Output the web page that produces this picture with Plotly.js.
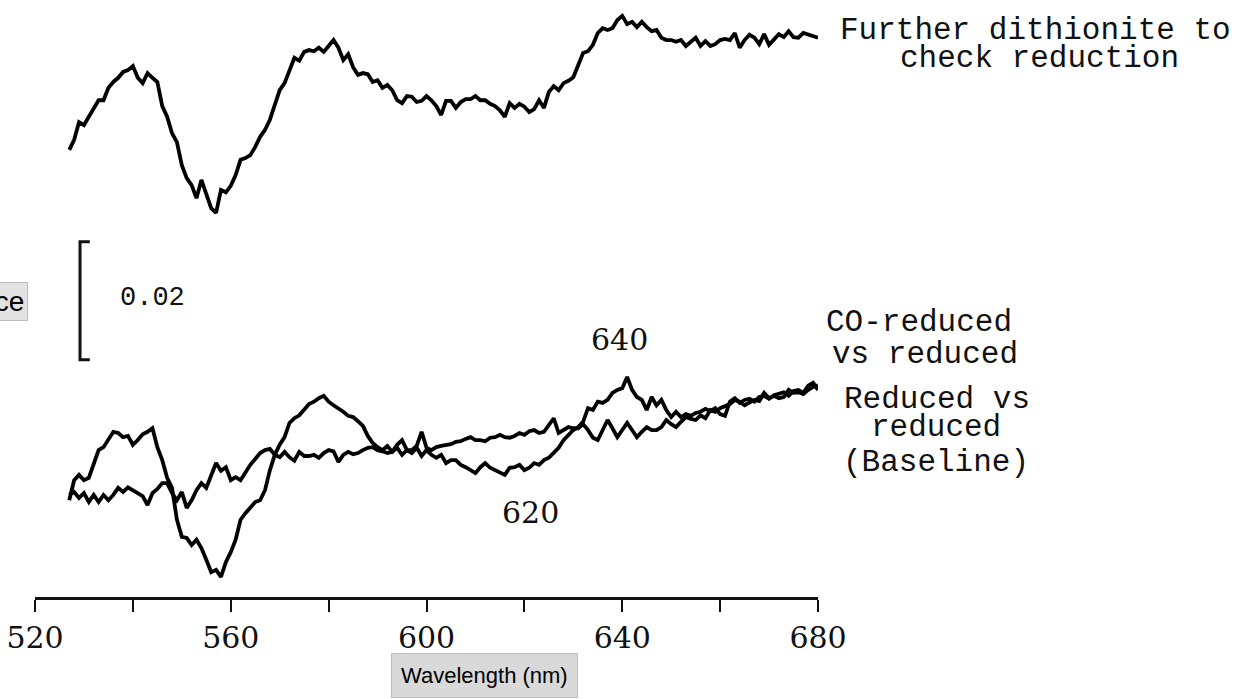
<!DOCTYPE html>
<html>
<head>
<meta charset="utf-8">
<script src="https://cdn.plot.ly/plotly-3.0.1.min.js"></script>
<style>html,body{margin:0;padding:0;background:#fff;}#chart{width:1248px;height:699px;}</style>
</head>
<body>
<div id="chart"></div>
<script>
// Wavelength grid (nm)
const wavelength = [
527,528,529,530,531,532,533,534,535,536,
537,538,539,540,541,542,543,544,545,546,
547,548,549,550,551,552,553,554,555,556,
557,558,559,560,561,562,563,564,565,566,
567,568,569,570,571,572,573,574,575,576,
577,578,579,580,581,582,583,584,585,586,
587,588,589,590,591,592,593,594,595,596,
597,598,599,600,601,602,603,604,605,606,
607,608,609,610,611,612,613,614,615,616,
617,618,619,620,621,622,623,624,625,626,
627,628,629,630,631,632,633,634,635,636,
637,638,639,640,641,642,643,644,645,646,
647,648,649,650,651,652,653,654,655,656,
657,658,659,660,661,662,663,664,665,666,
667,668,669,670,671,672,673,674,675,676,
677,678,679,680];

// Absorbance (x 0.001, traces offset vertically as in the recording)
const dithioniteAbs = [
75.8,77.5,80.5,80.0,81.4,82.9,84.2,84.2,86.3,87.3,
88.0,89.0,89.3,90.0,88.0,87.1,88.8,88.0,87.3,83.2,
81.4,78.6,77.1,73.2,71.0,69.8,67.6,70.7,68.5,65.9,
65.1,69.0,68.6,69.7,71.5,74.1,74.4,74.9,76.3,78.0,
79.2,80.9,83.4,85.9,87.1,89.3,91.4,90.9,92.4,92.7,
92.5,93.1,92.4,93.4,94.4,93.1,91.0,92.0,89.8,88.5,
88.8,88.6,87.3,87.6,86.3,86.8,85.9,84.2,83.7,84.9,
84.8,83.9,84.1,84.9,84.2,83.2,81.7,84.1,84.1,82.9,
83.9,84.4,84.4,84.9,84.2,84.2,83.6,83.2,82.5,81.4,
83.7,82.9,83.6,83.1,82.2,82.7,84.2,82.9,85.6,86.6,
85.9,87.1,87.5,88.1,90.3,92.2,92.5,93.6,95.6,96.4,
96.1,96.4,97.8,98.5,97.1,97.5,96.6,97.5,96.6,95.9,
96.1,94.8,94.4,94.4,94.1,94.4,93.4,94.1,94.8,93.4,
94.2,93.4,93.7,94.4,94.6,94.4,95.6,93.1,94.4,95.3,
94.8,93.7,95.4,93.6,94.4,95.4,94.9,95.9,94.9,94.8,
95.6,95.3,95.1,94.8];

const coReducedAbs = [
16.4,19.8,20.7,19.8,20.2,22.4,24.9,25.4,26.6,28.0,
27.8,27.1,27.3,25.8,26.6,27.6,28.0,28.6,25.4,23.2,
20.2,18.5,13.1,10.2,10.0,8.8,9.7,8.3,6.3,4.2,
4.6,3.4,5.9,7.6,9.7,13.1,14.2,15.1,16.1,16.4,
18.1,21.5,24.1,25.8,27.1,29.5,30.3,30.8,31.7,32.7,
33.1,33.7,34.1,33.1,32.5,32.0,31.4,30.7,30.5,29.8,
29.0,27.3,26.1,25.4,24.9,25.6,24.6,25.3,24.1,24.9,
24.4,25.3,23.9,24.9,24.1,23.6,24.1,22.7,23.2,23.2,
22.4,22.0,21.5,21.0,22.0,22.7,21.9,21.5,21.2,20.7,
21.9,22.0,22.4,21.5,21.9,22.7,22.4,23.2,23.6,24.4,
25.3,26.6,27.5,28.3,28.8,29.7,32.0,31.7,33.1,32.9,
33.4,34.6,35.1,35.4,37.3,35.1,33.9,33.4,31.7,33.9,
32.5,33.4,31.7,30.5,31.4,30.5,31.0,30.7,31.2,31.4,
31.9,31.5,32.0,31.0,30.7,33.1,33.7,32.9,33.4,33.6,
33.1,33.9,34.1,33.6,34.2,34.4,34.7,34.1,34.9,35.1,
34.6,35.8,36.3,35.1];

const baselineAbs = [
17.3,17.8,16.8,17.6,16.1,17.3,16.1,17.3,16.4,17.3,
18.5,17.8,18.6,18.1,17.6,17.1,15.6,17.6,18.3,19.3,
19.3,17.6,16.4,17.8,15.1,16.4,18.1,19.3,18.5,20.5,
22.7,21.4,22.0,19.8,20.3,19.8,21.2,22.4,23.4,24.4,
24.9,25.1,24.1,23.7,24.6,23.7,23.1,24.6,23.9,23.9,
24.1,23.6,24.4,24.9,24.7,22.9,24.1,24.6,24.2,24.4,
24.9,25.3,25.4,24.9,24.7,24.4,24.6,25.8,26.6,24.9,
24.9,25.6,28.0,25.3,24.9,25.4,25.6,25.8,25.9,26.3,
26.4,26.8,27.1,26.6,26.6,26.4,27.0,27.1,27.5,27.1,
27.0,27.3,27.8,27.5,28.1,28.3,27.8,28.0,29.2,30.3,
27.8,28.3,28.8,28.6,28.6,29.3,28.3,27.0,26.6,28.3,
30.0,28.6,27.1,28.3,29.5,28.3,27.1,28.0,28.8,28.3,
28.3,28.8,30.0,29.3,28.8,29.7,30.5,30.2,30.0,30.8,
30.3,31.7,31.4,32.0,32.4,32.7,33.4,33.1,32.5,32.9,
33.4,33.2,34.6,33.7,34.1,33.7,33.9,35.1,34.6,34.7,
34.4,35.1,35.6,35.9];

const seriesNames = ["Further dithionite to check reduction", "CO-reduced vs reduced", "Reduced vs reduced (Baseline)"];
const tickValues = [520, 560, 600, 640, 680];
const scaleBarAbs = 20; // 0.02 absorbance in units of 0.001

const lineStyle = {color: '#000', width: 3.8};
const traces = [
  {x: wavelength, y: dithioniteAbs, name: seriesNames[0]},
  {x: wavelength, y: coReducedAbs, name: seriesNames[1]},
  {x: wavelength, y: baselineAbs, name: seriesNames[2]}
].map(t => Object.assign(t, {type: 'scatter', mode: 'lines', line: lineStyle, showlegend: false, hoverinfo: 'skip'}));

const mono = {family: 'Liberation Mono, Courier New, monospace', size: 31, color: '#111'};
const numFont = {family: 'DejaVu Serif, serif', size: 30, color: '#111'};
function lab(text, x, y, font, xref, yref) {
  return {text: text, x: x, y: y, xref: xref || 'paper', yref: yref || 'paper', showarrow: false,
          xanchor: 'center', yanchor: 'middle', font: font};
}
const barBottom = 40.2, barTop = barBottom + scaleBarAbs;

const layout = {
  width: 1248, height: 699,
  margin: {l: 35, r: 430, t: 0, b: 102, pad: 0},
  paper_bgcolor: '#fff', plot_bgcolor: 'rgba(0,0,0,0)',
  showlegend: false,
  xaxis: {
    range: [520, 680], showgrid: false, zeroline: false,
    showline: true, linecolor: '#111', linewidth: 3,
    ticks: 'outside', ticklen: 12, tickwidth: 2, tickcolor: '#111',
    tickmode: 'array', tickvals: tickValues, ticktext: tickValues.map(String),
    tickfont: numFont, ticklabelstandoff: 0,
    minor: {dtick: 20, tick0: 520, ticks: 'outside', ticklen: 12, tickwidth: 2, tickcolor: '#111', showgrid: false}
  },
  yaxis: {range: [0, 101.19], visible: false, fixedrange: true},
  shapes: [{
    type: 'path', xref: 'x', yref: 'y',
    path: 'M 531.2,' + barTop + ' L 529.2,' + barTop + ' L 529.2,' + barBottom + ' L 531.2,' + barBottom,
    line: {color: '#111', width: 3}
  }],
  annotations: [
    lab('Further dithionite to', 1.2784, 0.9497, mono),
    lab('check reduction', 1.2835, 0.9028, mono),
    lab('CO-reduced', 1.1290, 0.4606, mono),
    lab('vs reduced', 1.1367, 0.4070, mono),
    lab('Reduced vs', 1.1520, 0.3300, mono),
    lab('reduced', 1.1507, 0.2831, mono),
    lab('(Baseline)', 1.1507, 0.2261, mono),
    lab('0.02', 544.1, 50.7, {family: mono.family, size: 27, color: '#111'}, 'x', 'y'),
    lab('640', 639.5, 43.6, numFont, 'x', 'y'),
    lab('620', 621.3, 14.4, numFont, 'x', 'y'),
    {text: 'Wavelength (nm)', x: 0.5747, y: -0.1307, xref: 'paper', yref: 'paper', showarrow: false,
     xanchor: 'center', yanchor: 'middle',
     font: {family: 'Liberation Sans Narrow, Liberation Sans, Arial, sans-serif', size: 22, color: '#000'},
     bgcolor: '#d9d9d9', bordercolor: '#bdbdbd', borderwidth: 1, borderpad: 9},
    {text: 'Absorbance', x: -0.0089, y: 0.4958, xref: 'paper', yref: 'paper', showarrow: false,
     xanchor: 'right', yanchor: 'middle',
     font: {family: 'Liberation Sans Narrow, Liberation Sans, Arial, sans-serif', size: 28, color: '#000'},
     bgcolor: '#e2e2e2', bordercolor: '#bdbdbd', borderwidth: 1, borderpad: 3}
  ]
};

Plotly.newPlot('chart', traces, layout, {staticPlot: true, displayModeBar: false});
</script>
</body>
</html>
